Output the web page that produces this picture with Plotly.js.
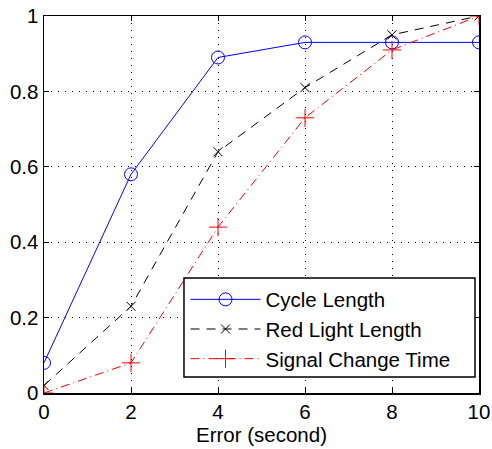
<!DOCTYPE html>
<html>
<head>
<script src="https://cdn.plot.ly/plotly-3.0.1.min.js"></script>
<style>body{margin:0;padding:0;background:#fff;} #chart{width:492px;height:449px;}</style>
</head>
<body>
<div id="chart"></div>
<script>
const errorSeconds = [0, 2, 4, 6, 8, 10];
const cycleLength = [0.08, 0.58, 0.89, 0.93, 0.93, 0.93];
const redLightLength = [0.02, 0.23, 0.64, 0.81, 0.95, 1.0];
const signalChangeTime = [0.0, 0.08, 0.44, 0.73, 0.91, 1.0];
const seriesNames = ["Cycle Length", "Red Light Length", "Signal Change Time"];
const xTicks = [0, 2, 4, 6, 8, 10];
const yTicks = [0, 0.2, 0.4, 0.6, 0.8, 1];
const yTickText = ["0", "0.2", "0.4", "0.6", "0.8", "1"];

const font = "'Liberation Sans', Arial, Helvetica, sans-serif";

const traces = [
  {x: errorSeconds, y: cycleLength, name: seriesNames[0], mode: "lines+markers", legendgroup: "a",
   line: {color: "#0000ff", width: 1, dash: "solid"},
   marker: {symbol: "circle-open", size: 13, color: "#0000ff", line: {width: 1, color: "#0000ff"}}},
  {x: errorSeconds, y: redLightLength, name: seriesNames[1], mode: "lines+markers", legendgroup: "b",
   line: {color: "#000000", width: 1, dash: "9px,7px"},
   marker: {symbol: "x-thin-open", size: 9, color: "#000000", line: {width: 1, color: "#000000"}}},
  {x: errorSeconds, y: signalChangeTime, name: seriesNames[2], mode: "lines+markers", legendgroup: "c",
   line: {color: "#ff0000", width: 1, dash: "9px,4px,1px,4px"},
   marker: {symbol: "cross-thin-open", size: 13, color: "#ff0000", line: {width: 1, color: "#ff0000"}}}
];

const axisCommon = {
  showline: true, linecolor: "#000", linewidth: 1.5, mirror: "ticks",
  ticks: "inside", ticklen: 5, tickcolor: "#000", tickwidth: 1,
  showgrid: true, gridcolor: "#000", gridwidth: 1, griddash: "1px,6px",
  zeroline: false, tickfont: {family: font, size: 20.5, color: "#000"}
};

const layout = {
  width: 492, height: 449,
  margin: {l: 44, r: 13, t: 16, b: 56},
  paper_bgcolor: "#fff", plot_bgcolor: "#fff",
  showlegend: true,
  xaxis: Object.assign({}, axisCommon, {
    range: [0, 10], tickvals: xTicks, ticktext: xTicks.map(String),
    title: {text: "Error (second)", font: {family: font, size: 20.5, color: "#000"}, standoff: 2}
  }),
  yaxis: Object.assign({}, axisCommon, {
    range: [0, 1], tickvals: yTicks, ticktext: yTickText
  }),
  shapes: [{
    type: "rect", xref: "paper", yref: "paper", layer: "above",
    x0: 0.3218, x1: 0.9908, y0: 0.0424, y1: 0.305,
    fillcolor: "#fff", line: {color: "#000", width: 1.5}
  }],
  legend: {
    x: 0.3253, y: 0.301, xanchor: "left", yanchor: "top",
    bgcolor: "rgba(0,0,0,0)", borderwidth: 0,
    font: {family: font, size: 20.5, color: "#000"},
    itemwidth: 70, tracegroupgap: 0
  }
};

Plotly.newPlot("chart", traces, layout, {displayModeBar: false, staticPlot: true});
</script>
</body>
</html>
